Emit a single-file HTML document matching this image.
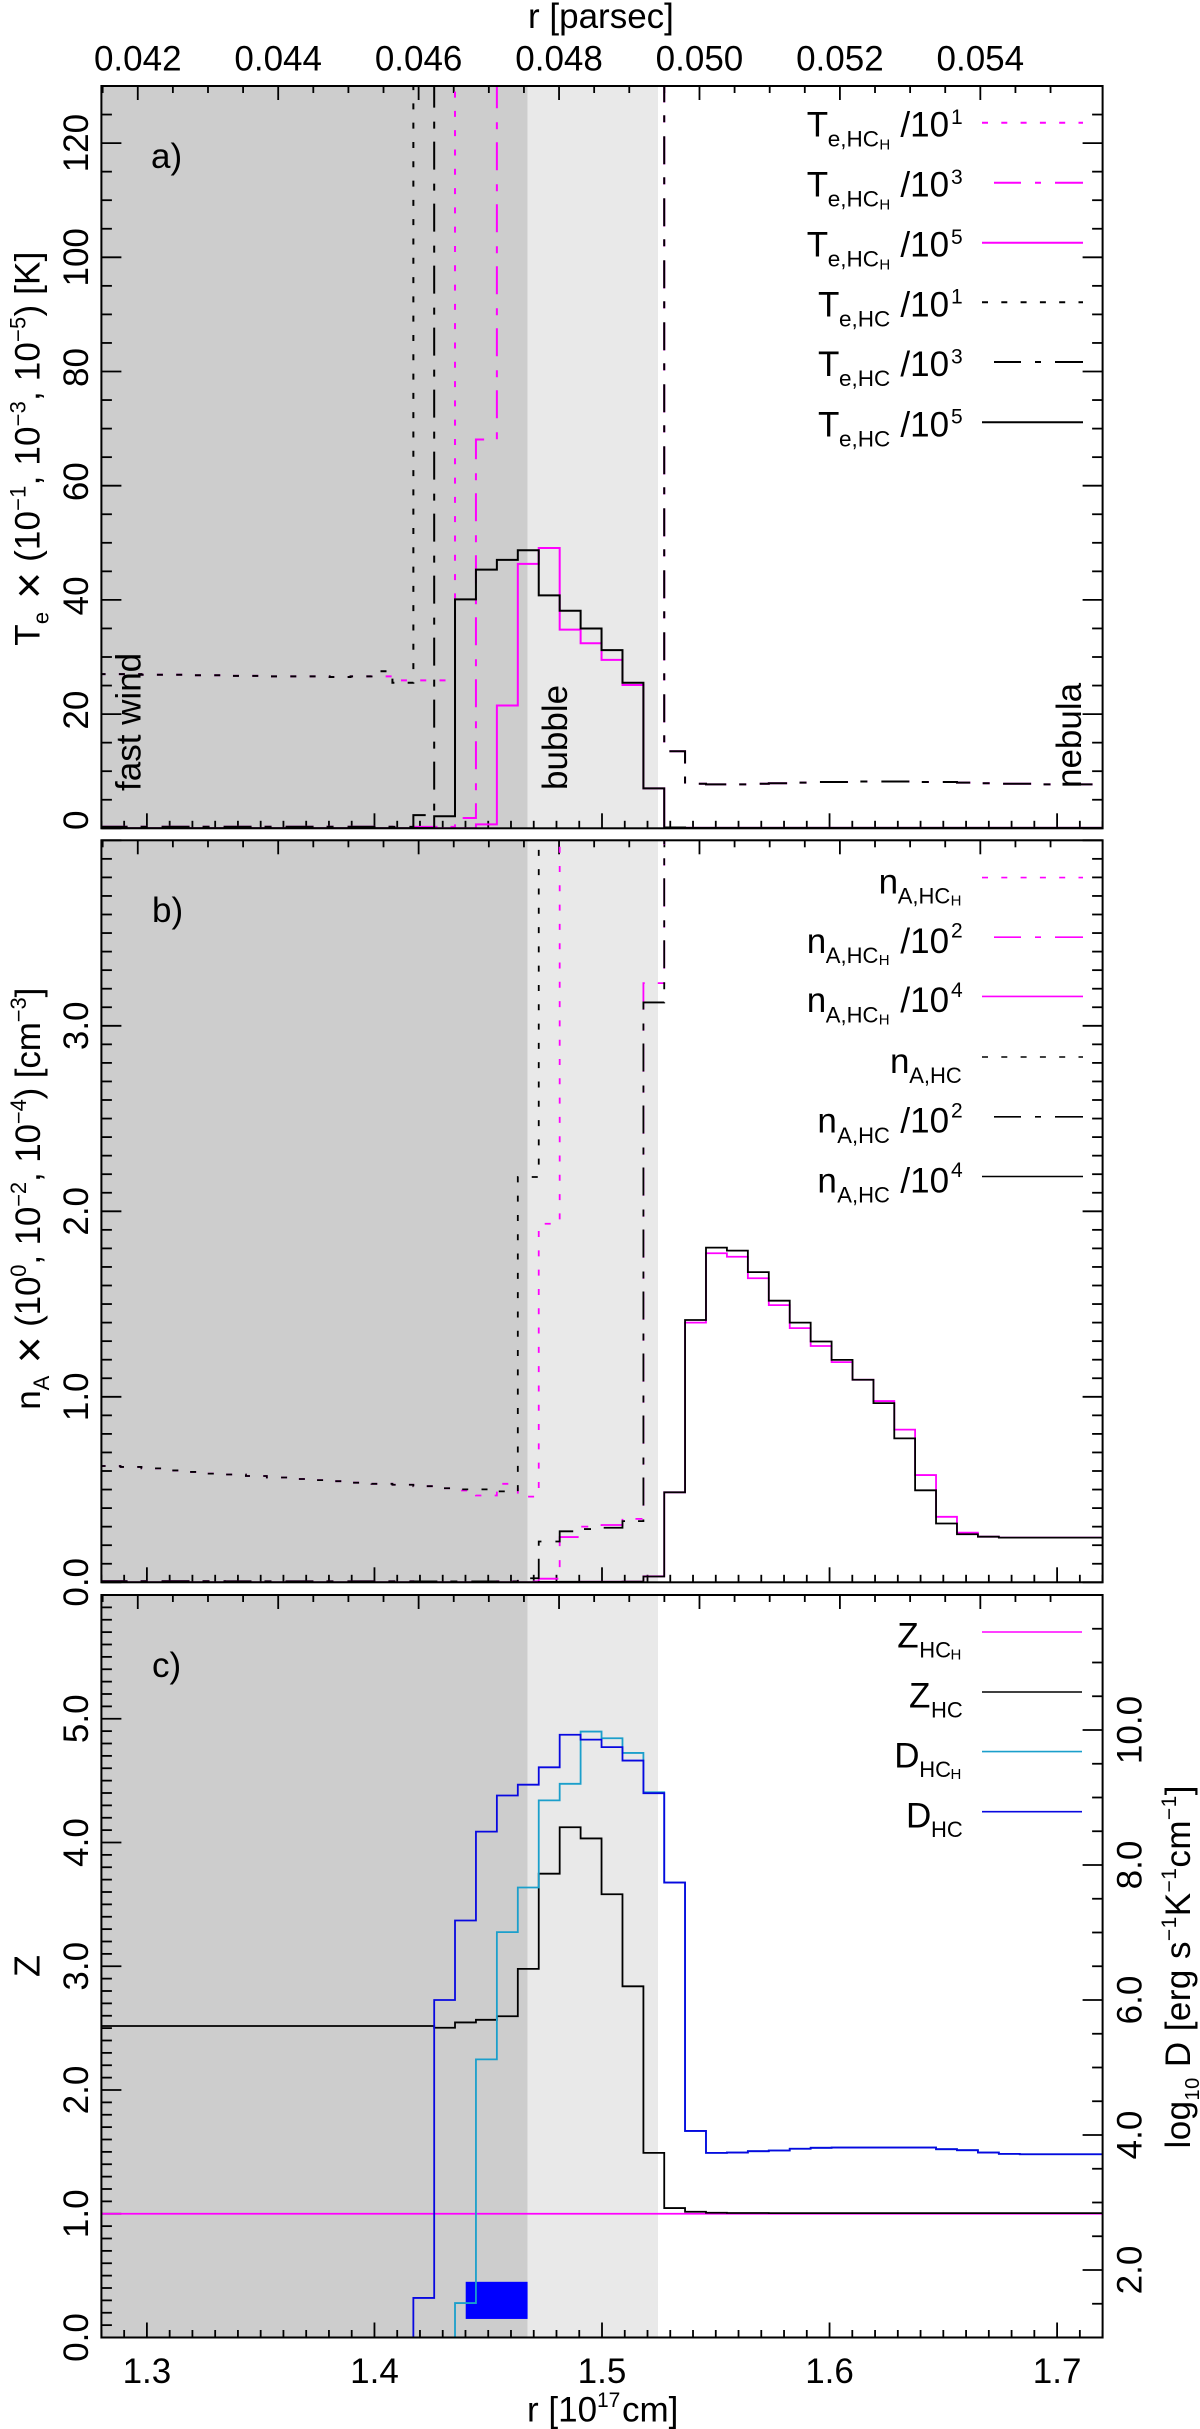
<!DOCTYPE html>
<html lang="en">
<head>
<meta charset="utf-8">
<title>Temperature, density, charge and diffusion profiles</title>
<style>
html,body{margin:0;padding:0;background:#fff;}
svg{display:block;font-family:"Liberation Sans",sans-serif;fill:#000;}
text{white-space:pre;}
</style>
</head>
<body>
<svg id="chart" xmlns="http://www.w3.org/2000/svg" width="1200" height="2429" viewBox="0 0 1200 2429" font-size="35">
  <defs>
    <clipPath id="clip-a"><rect x="101.4" y="86" width="1001.2" height="742.3"/></clipPath>
    <clipPath id="clip-b"><rect x="101.4" y="840.3" width="1001.2" height="742"/></clipPath>
    <clipPath id="clip-c"><rect x="101.4" y="1595" width="1001.2" height="742.5"/></clipPath>
  </defs>
  <g id="shade-layer"></g>
  <g id="tick-layer"></g>
  <g id="series-layer"></g>
  <g id="label-layer"></g>

  <text x="528" y="28">r [parsec]</text>
  <text><tspan x="527" y="2421.7">r [10</tspan><tspan x="597" y="2407" font-size="21">17</tspan><tspan x="622" y="2421.7">cm]</tspan></text>

  <text transform="translate(39.3 645.7) rotate(-90)" textLength="394" lengthAdjust="spacing">T<tspan font-size="22" dy="9">e</tspan><tspan font-size="46" dy="-4"> ×</tspan><tspan dy="-5"> (10</tspan><tspan font-size="22" dy="-14">−1</tspan><tspan dy="14">, 10</tspan><tspan font-size="22" dy="-14">−3</tspan><tspan dy="14">, 10</tspan><tspan font-size="22" dy="-14">−5</tspan><tspan dy="14">) [K]</tspan></text>
  <text transform="translate(40 1409.7) rotate(-90)" textLength="422" lengthAdjust="spacing">n<tspan font-size="22" dy="9">A</tspan><tspan font-size="46" dy="-4"> ×</tspan><tspan dy="-5"> (10</tspan><tspan font-size="22" dy="-14">0</tspan><tspan dy="14">, 10</tspan><tspan font-size="22" dy="-14">−2</tspan><tspan dy="14">, 10</tspan><tspan font-size="22" dy="-14">−4</tspan><tspan dy="14">) [cm</tspan><tspan font-size="22" dy="-14">−3</tspan><tspan dy="14">]</tspan></text>
  <text transform="translate(39.3 1966) rotate(-90)" text-anchor="middle" font-size="36">Z</text>
  <text transform="translate(1190 2148.5) rotate(-90)" textLength="363" lengthAdjust="spacing">log<tspan font-size="20" dy="9">10</tspan><tspan dy="-9"> D [erg s</tspan><tspan font-size="21" dy="-14">−1</tspan><tspan dy="14">K</tspan><tspan font-size="21" dy="-14">−1</tspan><tspan dy="14">cm</tspan><tspan font-size="21" dy="-14">−1</tspan><tspan dy="14">]</tspan></text>

  <text x="151" y="168">a)</text>
  <text x="152" y="922">b)</text>
  <text x="152" y="1677">c)</text>
  <text transform="translate(140.7 791) rotate(-90)">fast wind</text>
  <text transform="translate(567 790) rotate(-90)">bubble</text>
  <text transform="translate(1081 788) rotate(-90)">nebula</text>

  <!-- Legend a -->
  <g>
    <g transform="translate(0 122.7)">
      <line x1="982" x2="1083" y1="0" y2="0" stroke="#ff00ff" stroke-width="2" stroke-dasharray="6 13.3"/>
      <text><tspan x="806.7" y="14">T</tspan><tspan x="827.7" y="24" font-size="22.5">e,HC</tspan><tspan x="879.4" y="26.6" font-size="15">H</tspan><tspan x="900.4" y="14">/10</tspan><tspan x="951" y="1.3" font-size="21">1</tspan></text>
    </g>
    <g transform="translate(0 182.7)">
      <line x1="994" x2="1083" y1="0" y2="0" stroke="#ff00ff" stroke-width="2" stroke-dasharray="27 14 6 14 28"/>
      <text><tspan x="806.7" y="14">T</tspan><tspan x="827.7" y="24" font-size="22.5">e,HC</tspan><tspan x="879.4" y="26.6" font-size="15">H</tspan><tspan x="900.4" y="14">/10</tspan><tspan x="951" y="1.3" font-size="21">3</tspan></text>
    </g>
    <g transform="translate(0 242.7)">
      <line x1="982" x2="1083" y1="0" y2="0" stroke="#ff00ff" stroke-width="2"/>
      <text><tspan x="806.7" y="14">T</tspan><tspan x="827.7" y="24" font-size="22.5">e,HC</tspan><tspan x="879.4" y="26.6" font-size="15">H</tspan><tspan x="900.4" y="14">/10</tspan><tspan x="951" y="1.3" font-size="21">5</tspan></text>
    </g>
    <g transform="translate(0 302.3)">
      <line x1="982" x2="1083" y1="0" y2="0" stroke="#000" stroke-width="2" stroke-dasharray="6 13.3"/>
      <text><tspan x="818" y="14">T</tspan><tspan x="839" y="24" font-size="22.5">e,HC</tspan><tspan x="900.4" y="14">/10</tspan><tspan x="951" y="1.3" font-size="21">1</tspan></text>
    </g>
    <g transform="translate(0 362)">
      <line x1="994" x2="1083" y1="0" y2="0" stroke="#000" stroke-width="2" stroke-dasharray="27 14 6 14 28"/>
      <text><tspan x="818" y="14">T</tspan><tspan x="839" y="24" font-size="22.5">e,HC</tspan><tspan x="900.4" y="14">/10</tspan><tspan x="951" y="1.3" font-size="21">3</tspan></text>
    </g>
    <g transform="translate(0 422.3)">
      <line x1="982" x2="1083" y1="0" y2="0" stroke="#000" stroke-width="2"/>
      <text><tspan x="818" y="14">T</tspan><tspan x="839" y="24" font-size="22.5">e,HC</tspan><tspan x="900.4" y="14">/10</tspan><tspan x="951" y="1.3" font-size="21">5</tspan></text>
    </g>
  </g>

  <!-- Legend b -->
  <g>
    <g transform="translate(0 877.6)">
      <line x1="982" x2="1083" y1="0" y2="0" stroke="#ff00ff" stroke-width="1.6" stroke-dasharray="6 13.3"/>
      <text><tspan x="878.6" y="15.8">n</tspan><tspan x="897.7" y="26" font-size="22">A,HC</tspan><tspan x="950.6" y="28" font-size="15">H</tspan></text>
    </g>
    <g transform="translate(0 937.2)">
      <line x1="994" x2="1083" y1="0" y2="0" stroke="#ff00ff" stroke-width="1.6" stroke-dasharray="27 14 6 14 28"/>
      <text><tspan x="806.7" y="15.8">n</tspan><tspan x="825.8" y="26" font-size="22">A,HC</tspan><tspan x="878.7" y="28" font-size="15">H</tspan><tspan x="900.4" y="15.8">/10</tspan><tspan x="951" y="0.5" font-size="21">2</tspan></text>
    </g>
    <g transform="translate(0 996.4)">
      <line x1="982" x2="1083" y1="0" y2="0" stroke="#ff00ff" stroke-width="1.6"/>
      <text><tspan x="806.7" y="15.8">n</tspan><tspan x="825.8" y="26" font-size="22">A,HC</tspan><tspan x="878.7" y="28" font-size="15">H</tspan><tspan x="900.4" y="15.8">/10</tspan><tspan x="951" y="0.5" font-size="21">4</tspan></text>
    </g>
    <g transform="translate(0 1057)">
      <line x1="982" x2="1083" y1="0" y2="0" stroke="#000" stroke-width="1.6" stroke-dasharray="6 13.3"/>
      <text><tspan x="890" y="15.8">n</tspan><tspan x="909.2" y="26" font-size="22">A,HC</tspan></text>
    </g>
    <g transform="translate(0 1116.8)">
      <line x1="994" x2="1083" y1="0" y2="0" stroke="#000" stroke-width="1.6" stroke-dasharray="27 14 6 14 28"/>
      <text><tspan x="817.4" y="15.8">n</tspan><tspan x="837.3" y="26" font-size="22">A,HC</tspan><tspan x="900.4" y="15.8">/10</tspan><tspan x="951" y="0.5" font-size="21">2</tspan></text>
    </g>
    <g transform="translate(0 1176.5)">
      <line x1="982" x2="1083" y1="0" y2="0" stroke="#000" stroke-width="1.6"/>
      <text><tspan x="817.4" y="15.8">n</tspan><tspan x="837.3" y="26" font-size="22">A,HC</tspan><tspan x="900.4" y="15.8">/10</tspan><tspan x="951" y="0.5" font-size="21">4</tspan></text>
    </g>
  </g>

  <!-- Legend c -->
  <g>
    <g transform="translate(0 1632)">
      <line x1="982" x2="1082" y1="0" y2="0" stroke="#ff00ff" stroke-width="1.6"/>
      <text><tspan x="897.3" y="15.7">Z</tspan><tspan x="919.3" y="25.5" font-size="22">HC</tspan><tspan x="950.5" y="27.5" font-size="15">H</tspan></text>
    </g>
    <g transform="translate(0 1692)">
      <line x1="982" x2="1082" y1="0" y2="0" stroke="#000" stroke-width="1.6"/>
      <text><tspan x="909" y="15.7">Z</tspan><tspan x="931" y="25.5" font-size="22">HC</tspan></text>
    </g>
    <g transform="translate(0 1751.6)">
      <line x1="982" x2="1082" y1="0" y2="0" stroke="#1b9fcb" stroke-width="1.6"/>
      <text><tspan x="894.3" y="15.7">D</tspan><tspan x="919.3" y="25.5" font-size="22">HC</tspan><tspan x="950.5" y="27.5" font-size="15">H</tspan></text>
    </g>
    <g transform="translate(0 1811.7)">
      <line x1="982" x2="1082" y1="0" y2="0" stroke="#0808e0" stroke-width="1.6"/>
      <text><tspan x="906" y="15.7">D</tspan><tspan x="931" y="25.5" font-size="22">HC</tspan></text>
    </g>
  </g>

  <rect x="101.4" y="86" width="1001.2" height="742.3" fill="none" stroke="#000" stroke-width="2"/>
  <rect x="101.4" y="840.3" width="1001.2" height="742" fill="none" stroke="#000" stroke-width="2"/>
  <rect x="101.4" y="1595" width="1001.2" height="742.5" fill="none" stroke="#000" stroke-width="2"/>
</svg>

<script>
// ---- Data ----
const rBins = [1.2838,1.2930,1.3022,1.3114,1.3206,1.3297,1.3389,1.3481,1.3573,1.3665,1.3757,1.3849,1.3941,1.4033,1.4125,1.4217,1.4308,1.4400,1.4492,1.4584,1.4676,1.4768,1.4860,1.4952,1.5044,1.5136,1.5228,1.5319,1.5411,1.5503,1.5595,1.5687,1.5779,1.5871,1.5963,1.6055,1.6147,1.6239,1.6330,1.6422,1.6514,1.6606,1.6698,1.6790,1.6882,1.6974,1.7066,1.7158];
const teHC = [270,270,269,269,268,268,267,267,266,266,266,265,266,275,255,2300,210000,4010000,4530000,4700000,4870000,4080000,3810000,3500000,3120000,2550000,700000,13500,7800,7700,7700,7800,7900,8000,8100,8100,8200,8200,8200,8100,8100,8000,7900,7800,7800,7700,7700,7700];
const teHCH = [270,270,269,269,268,268,267,267,266,266,266,265,266,266,259,259,259,1800,68100,2150000,4630000,4910000,3480000,3240000,2950000,2510000,700000,13500,7800,7700,7700,7800,7900,8000,8100,8100,8200,8200,8200,8100,8100,8000,7900,7800,7800,7700,7700,7700];
const nHC = [0.627,0.622,0.614,0.603,0.595,0.586,0.581,0.573,0.565,0.557,0.551,0.545,0.537,0.531,0.526,0.518,0.507,0.501,0.501,0.49,2.185,22,27.5,28.7,29.4,33,312.6,4850,14140,18040,17880,16720,15180,14000,12980,11990,10920,9660,7760,4960,3170,2590,2460,2410,2410,2410,2410,2410];
const nHCH = [0.627,0.622,0.614,0.603,0.595,0.586,0.581,0.573,0.565,0.557,0.551,0.545,0.537,0.531,0.526,0.518,0.507,0.495,0.468,0.531,0.462,1.933,24.4,30,30.9,34.2,323,4850,14000,17740,17550,16390,14940,13700,12740,11870,10920,9770,8230,5780,3530,2680,2460,2410,2410,2410,2410,2410];
const zHC = [2.517,2.517,2.517,2.517,2.517,2.517,2.517,2.517,2.517,2.517,2.517,2.517,2.517,2.517,2.517,2.517,2.503,2.546,2.567,2.596,2.979,3.748,4.123,4.033,3.582,2.838,1.492,1.046,1.016,1.008,1.006,1.006,1.005,1.005,1.005,1.005,1.005,1.005,1.005,1.005,1.005,1.005,1.005,1.005,1.005,1.005,1.005,1.005];
const zHCH = [1,1,1,1,1,1,1,1,1,1,1,1,1,1,1,1,1,1,1,1,1,1,1,1,1,1,1,1,1,1,1,1,1,1,1,1,1,1,1,1,1,1,1,1,1,1,1,1];
const dHC = [0.5,0.5,0.5,0.5,0.5,0.5,0.5,0.5,0.5,0.5,0.5,0.5,0.5,0.5,0.5,1.586,6.0,7.178,8.494,9.03,9.19,9.447,9.93,9.858,9.746,9.547,9.064,7.74,4.06,3.735,3.74,3.76,3.77,3.796,3.81,3.814,3.814,3.814,3.814,3.814,3.79,3.775,3.74,3.72,3.715,3.715,3.715,3.715];
const dHCH = [0.5,0.5,0.5,0.5,0.5,0.5,0.5,0.5,0.5,0.5,0.5,0.5,0.5,0.5,0.5,0.5,0.5,1.51,5.12,7.006,7.667,8.958,9.203,9.977,9.878,9.66,9.077,7.74,4.06,3.735,3.74,3.76,3.77,3.796,3.81,3.814,3.814,3.814,3.814,3.814,3.79,3.775,3.74,3.72,3.715,3.715,3.715,3.715];

const bottomTickLabels = ["1.3","1.4","1.5","1.6","1.7"];
const topTickLabels = ["0.042","0.044","0.046","0.048","0.050","0.052","0.054"];
const teTickLabels = ["0","20","40","60","80","100","120"];
const nTickLabels = ["0.0","1.0","2.0","3.0"];
const zTickLabels = ["0.0","1.0","2.0","3.0","4.0","5.0"];
const dTickLabels = ["2.0","4.0","6.0","8.0","10.0"];
const regionBounds = [1.4673, 1.5246];
const markerR = [1.4401, 1.4673];
const markerZ = [0.15, 0.45];

// ---- Axis functions ----
const plotL = 101.4, plotR = 1102.6;
const rMin = 1.28, rMax = 1.72;
const PC_PER_1E17CM = 0.0324078;
function xScale(r){ return plotL + (r - rMin) * (plotR - plotL) / (rMax - rMin); }
function xPc(pc){ return xScale(pc / PC_PER_1E17CM); }
function linScale(vMin, vMax, yBottom, yTop){
  return function(v){ return yBottom - (v - vMin) * (yBottom - yTop) / (vMax - vMin); };
}
const panels = {
  a: {top: 86, bottom: 828.3},
  b: {top: 840.3, bottom: 1582.3},
  c: {top: 1595, bottom: 2337.5}
};
const yTe = linScale(0, 130, panels.a.bottom, panels.a.top);
const yN = linScale(0, 4, panels.b.bottom, panels.b.top);
const yZ = linScale(0, 6, panels.c.bottom, panels.c.top);
const yD = linScale(1, 12, panels.c.bottom, panels.c.top);

// ---- Drawing helpers ----
const SVGNS = "http://www.w3.org/2000/svg";
function mk(parent, tag, name, props){
  const e = document.createElementNS(SVGNS, tag);
  
  
  for (const k in props) e.setAttribute(k, props[k]);
  parent.appendChild(e);
  return e;
}
const shadeLayer = document.getElementById('shade-layer');
const tickLayer = document.getElementById('tick-layer');
const seriesLayer = document.getElementById('series-layer');
const labelLayer = document.getElementById('label-layer');

function tickLine(name, x1, y1, x2, y2){
  mk(tickLayer, 'line', name, {x1:x1, y1:y1, x2:x2, y2:y2, stroke:'#000', 'stroke-width':1.8});
}

// Step (histogram) path through axis functions
function stepPath(values, scale, panel){
  const lo = panel.top - 4, hi = panel.bottom + 4;
  const clampY = function(v){ return Math.min(hi, Math.max(lo, scale(v))); };
  let d = '';
  for (let i = 0; i < rBins.length; i++){
    const left = i === 0 ? xScale(rBins[0]) - (xScale(rBins[1]) - xScale(rBins[0])) / 2 : (xScale(rBins[i-1]) + xScale(rBins[i])) / 2;
    const right = i === rBins.length - 1 ? xScale(rBins[i]) + (xScale(rBins[i]) - xScale(rBins[i-1])) / 2 : (xScale(rBins[i]) + xScale(rBins[i+1])) / 2;
    const y = clampY(values[i]).toFixed(2);
    d += (i === 0 ? 'M' : 'L') + left.toFixed(2) + ' ' + y + ' L' + right.toFixed(2) + ' ' + y + ' ';
  }
  return d;
}
const DOT = '6 13.3', DASHDOT = '28 13 7 14';
function drawSeries(name, values, divisor, scale, panel, clip, color, width, dash){
  const scaled = values.map(function(v){ return v / divisor; });
  const props = {d: stepPath(scaled, scale, panel), fill:'none', stroke:color, 'stroke-width':width, 'clip-path':'url(#' + clip + ')', 'stroke-linejoin':'miter'};
  if (dash) props['stroke-dasharray'] = dash;
  mk(seriesLayer, 'path', name, props);
}

// ---- Shading ----
['a','b','c'].forEach(function(p){
  const P = panels[p];
  mk(shadeLayer, 'rect', 'fast-wind-region-' + p, {x:plotL, y:P.top, width:xScale(regionBounds[0]) - plotL, height:P.bottom - P.top, fill:'#cdcdcd'});
  mk(shadeLayer, 'rect', 'bubble-region-' + p, {x:xScale(regionBounds[0]), y:P.top, width:xScale(regionBounds[1]) - xScale(regionBounds[0]), height:P.bottom - P.top, fill:'#e9e9e9'});
});

// ---- X ticks ----
['a','b','c'].forEach(function(p){
  const P = panels[p];
  for (let k = 0; k <= 44; k++){
    const r = (128 + k) / 100;
    const major = (128 + k) % 10 === 0;
    const len = major ? 15 : 7.5;
    tickLine('bottom-x-tick-' + p, xScale(r), P.bottom, xScale(r), P.bottom - len);
  }
  for (let k = 0; k < 28; k++){
    const pc = 0.0415 + k * 0.0005;
    const x = xPc(pc);
    if (x < plotL - 0.5 || x > plotR + 0.5) continue;
    const major = (k - 1) % 4 === 0;
    const len = major ? 14 : 7;
    tickLine('top-x-tick-' + p, x, P.top, x, P.top + len);
  }
});

// ---- Y ticks ----
function yTicks(panelKey, scale, vMin, vMax, step, majorEvery, side){
  const n = Math.round((vMax - vMin) / step);
  for (let k = 0; k <= n; k++){
    const v = vMin + k * step;
    const y = scale(v);
    const major = Math.round(v / step) % majorEvery === 0;
    const len = major ? 20 : 10.5;
    if (side.indexOf('L') >= 0) tickLine('left-y-tick-' + panelKey, plotL, y, plotL + len, y);
    if (side.indexOf('R') >= 0) tickLine('right-y-tick-' + panelKey, plotR, y, plotR - len, y);
  }
}
yTicks('a', yTe, 0, 130, 5, 4, 'LR');
yTicks('b', yN, 0, 4, 0.1, 10, 'LR');
yTicks('c', yZ, 0, 6, 0.1, 10, 'L');
yTicks('c-d', yD, 1, 12, 0.5, 4, 'R');

// ---- Tick labels ----
function hLabel(name, txt, x, y){
  const t = mk(labelLayer, 'text', name, {x:x, y:y, 'text-anchor':'middle'});
  t.textContent = txt;
}
function vLabel(name, txt, x, y){
  const t = mk(labelLayer, 'text', name, {transform:'translate(' + x + ' ' + y.toFixed(2) + ') rotate(-90)', 'text-anchor':'middle'});
  t.textContent = txt;
}
bottomTickLabels.forEach(function(s){ hLabel('bottom-x-tick-label', s, xScale(parseFloat(s)), 2383); });
topTickLabels.forEach(function(s){ hLabel('top-x-tick-label', s, xPc(parseFloat(s)), 70.7); });
// shorter labels on the temperature axis sit slightly above their ticks in the reference
teTickLabels.forEach(function(s){ vLabel('temperature-tick-label', s, 88, yTe(parseFloat(s)) - (3 - s.length) * 4); });
nTickLabels.forEach(function(s){ vLabel('density-tick-label', s, 88, yN(parseFloat(s))); });
zTickLabels.forEach(function(s){ vLabel('charge-tick-label', s, 88, yZ(parseFloat(s))); });
dTickLabels.forEach(function(s){ vLabel('diffusion-tick-label', s, 1141.7, yD(parseFloat(s))); });

// ---- Panel a ----
const A = panels.a;
drawSeries('te-hch-div-1e1', teHCH, 1e1, yTe, A, 'clip-a', '#ff00ff', 2, DOT);
drawSeries('te-hch-div-1e3', teHCH, 1e3, yTe, A, 'clip-a', '#ff00ff', 2, DASHDOT);
drawSeries('te-hch-div-1e5', teHCH, 1e5, yTe, A, 'clip-a', '#ff00ff', 2, null);
drawSeries('te-hc-div-1e1', teHC, 1e1, yTe, A, 'clip-a', '#000', 2, DOT);
drawSeries('te-hc-div-1e3', teHC, 1e3, yTe, A, 'clip-a', '#000', 2, DASHDOT);
drawSeries('te-hc-div-1e5', teHC, 1e5, yTe, A, 'clip-a', '#000', 2, null);

// ---- Panel b ----
const B = panels.b;
drawSeries('na-hch-div-1e0', nHCH, 1, yN, B, 'clip-b', '#ff00ff', 1.8, DOT);
drawSeries('na-hch-div-1e2', nHCH, 1e2, yN, B, 'clip-b', '#ff00ff', 1.8, DASHDOT);
drawSeries('na-hch-div-1e4', nHCH, 1e4, yN, B, 'clip-b', '#ff00ff', 1.8, null);
drawSeries('na-hc-div-1e0', nHC, 1, yN, B, 'clip-b', '#000', 1.8, DOT);
drawSeries('na-hc-div-1e2', nHC, 1e2, yN, B, 'clip-b', '#000', 1.8, DASHDOT);
drawSeries('na-hc-div-1e4', nHC, 1e4, yN, B, 'clip-b', '#000', 1.8, null);

// ---- Panel c ----
const C = panels.c;
mk(seriesLayer, 'rect', 'blue-marker-rectangle', {
  x: xScale(markerR[0]), y: yZ(markerZ[1]),
  width: xScale(markerR[1]) - xScale(markerR[0]),
  height: yZ(markerZ[0]) - yZ(markerZ[1]),
  fill: '#0000ff'
});
drawSeries('z-hch', zHCH, 1, yZ, C, 'clip-c', '#ff00ff', 1.8, null);
drawSeries('z-hc', zHC, 1, yZ, C, 'clip-c', '#000', 1.8, null);
drawSeries('d-hch', dHCH, 1, yD, C, 'clip-c', '#1b9fcb', 1.8, null);
drawSeries('d-hc', dHC, 1, yD, C, 'clip-c', '#0808e0', 1.8, null);
</script>
</body>
</html>
